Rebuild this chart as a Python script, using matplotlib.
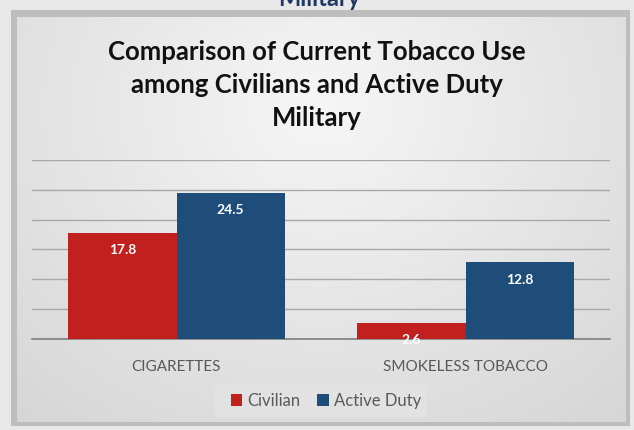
import numpy as np
import matplotlib.pyplot as plt
from matplotlib.patches import Rectangle

# 数据
categories = ['CIGARETTES', 'SMOKELESS TOBACCO']
series_names = ['Civilian', 'Active Duty']
civilian = [17.8, 2.6]
active_duty = [24.5, 12.8]
colors = ['#C21F1F', '#1F4D7A']
title = 'Comparison of Current Tobacco Use\namong Civilians and Active Duty\nMilitary'

W, H = 634, 430
fig = plt.figure(figsize=(W / 100, H / 100), dpi=100, facecolor='#e8e8e8')

# 背景层：像素坐标
bg = fig.add_axes([0, 0, 1, 1])
bg.set_xlim(0, W)
bg.set_ylim(H, 0)
bg.axis('off')

# 上方残留的标题文字（只露出下半部分）
bg.text(W / 2 + 2, 6, 'Military', ha='center', va='baseline', fontsize=17,
        fontweight='bold', color='#1F3864', family='Lato', zorder=1)

# 阴影边框
bg.add_patch(Rectangle((11, 10), 619, 416, facecolor='#bdbdbd', edgecolor='none', zorder=2))

# 面板渐变填充
x0, y0, x1, y1 = 17, 17, 626, 422
xx, yy = np.meshgrid(np.linspace(-1, 1, x1 - x0), np.linspace(-1, 1, y1 - y0))
cy = -0.55
r = np.sqrt(xx ** 2 + ((yy - cy) / 1.3) ** 2)
shade = 0.965 - 0.13 * np.clip(r, 0, 1.6) / 1.6
img = np.dstack([shade, shade, shade])
bg.imshow(img, extent=(x0, x1, y1, y0), aspect='auto', zorder=3)

# 图例背景框
bg.add_patch(Rectangle((215, 385), 212, 32, facecolor='#e4e4e4', edgecolor='none',
                       alpha=0.8, zorder=4))

# 标题
bg.text(W / 2, 85, title, ha='center', va='center', fontsize=18.5, fontweight='bold',
        color='#111111', family='Lato', linespacing=1.45, zorder=5)

# 柱状图
ax = fig.add_axes([32 / W, (H - 338.5) / H, (610 - 32) / W, (338.5 - 160) / H])
ax.patch.set_alpha(0)
x = np.arange(len(categories))
bw = 0.374
bars1 = ax.bar(x - bw / 2, civilian, bw, color=colors[0], label=series_names[0], zorder=3)
bars2 = ax.bar(x + bw / 2, active_duty, bw, color=colors[1], label=series_names[1], zorder=3)

for bars, vals in [(bars1, civilian), (bars2, active_duty)]:
    for b, v in zip(bars, vals):
        ax.annotate(f'{v}', (b.get_x() + b.get_width() / 2, v), xytext=(0, -12.5),
                    textcoords='offset points', ha='center', va='center',
                    fontsize=10, fontweight='bold', color='white', family='Lato', zorder=4)

ax.set_xlim(-0.5, 1.5)
ax.set_ylim(0, 30)
ax.set_yticks(np.arange(0, 31, 5))
ax.yaxis.grid(True, color='#a8a8a8', linewidth=1)
ax.set_axisbelow(True)
ax.tick_params(axis='y', left=False, labelleft=False)
ax.tick_params(axis='x', bottom=False, labelsize=11, labelcolor='#595959', pad=12)
ax.set_xticks(x, categories, family='Lato')
for s in ['top', 'right', 'left']:
    ax.spines[s].set_visible(False)
ax.spines['bottom'].set_color('#7f7f7f')
ax.spines['bottom'].set_linewidth(1.2)

leg = ax.legend(loc='center', bbox_to_anchor=(0.5 + 5 / 578, (338.5 - 401) / (338.5 - 160)),
                ncol=2, frameon=False, handlelength=0.7, handleheight=0.7,
                handletextpad=0.3, columnspacing=1.0,
                prop={'family': 'Lato', 'size': 12})
for t in leg.get_texts():
    t.set_color('#595959')

fig.savefig('out.png', dpi=100, facecolor=fig.get_facecolor())
